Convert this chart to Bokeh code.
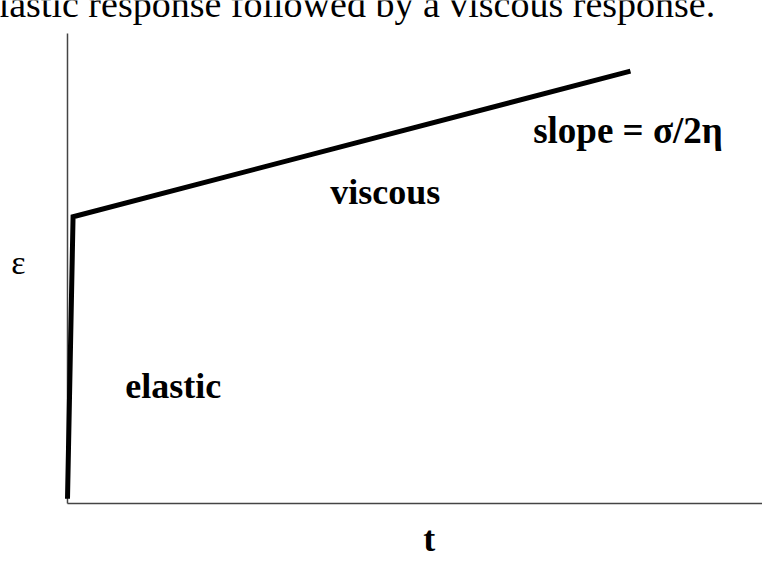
from bokeh.plotting import figure
from bokeh.models import Range1d, Label
from bokeh.embed import file_html
from bokeh.resources import INLINE

# Creep curve of a Maxwell-type material: elastic jump then viscous flow
t_vals = [0.0, 0.08, 8.1]
strain_vals = [0.1, 6.1, 9.2]

# extent of the drawn axes (data units)
t_axis = [0.0, 10.0]
strain_axis = [0.0, 10.0]

region_labels = ["elastic", "viscous", "slope = σ/2η"]
x_label = "t"
y_label = "ε"
caption = "lastic response followed by a viscous response."

FONT = "Liberation Serif"

W, H = 762, 553
p = figure(width=W, height=H, output_backend="svg", toolbar_location=None,
           x_axis_type=None, y_axis_type=None,
           x_range=Range1d(-0.964, -0.964 + W / 69.5),
           y_range=Range1d(-(H - 503) / 47, 503 / 47))
p.min_border = 0
p.min_border_left = 0
p.min_border_right = 0
p.min_border_top = 0
p.min_border_bottom = 0
p.outline_line_color = None
p.grid.visible = False
p.background_fill_color = "white"
p.border_fill_color = "white"

AX = dict(line_color="#444444", line_width=1.5, line_cap="butt")
# horizontal (time) axis and vertical (strain) axis
p.segment(x0=[t_axis[0]], y0=[strain_axis[0]], x1=[t_axis[1]], y1=[strain_axis[0]], **AX)
p.segment(x0=[t_axis[0]], y0=[strain_axis[0]], x1=[t_axis[0]], y1=[strain_axis[1]], **AX)

p.line(t_vals, strain_vals, line_color="black", line_width=5, line_join="miter")

def lab(x, y, text, size, bold=True, align="left"):
    p.add_layout(Label(x=x, y=y, text=text, text_font=FONT,
                       text_font_size=f"{size}px",
                       text_font_style="bold" if bold else "normal",
                       text_align=align, text_baseline="alphabetic",
                       text_color="black"))

DY = 0.28
lab(0.83, 2.21 + DY, region_labels[0], 36)
lab(3.78, 6.34 + DY, region_labels[1], 36)
lab(6.7, 7.66 + DY, region_labels[2], 37)
lab(5.12, -1.04 + DY, x_label, 36)
lab(-0.81, 4.85 + DY, y_label, 34, bold=False)
lab(9.32, 10.35 + DY, caption, 38, bold=False, align="right")

open("out.html", "w").write(file_html(p, INLINE))
